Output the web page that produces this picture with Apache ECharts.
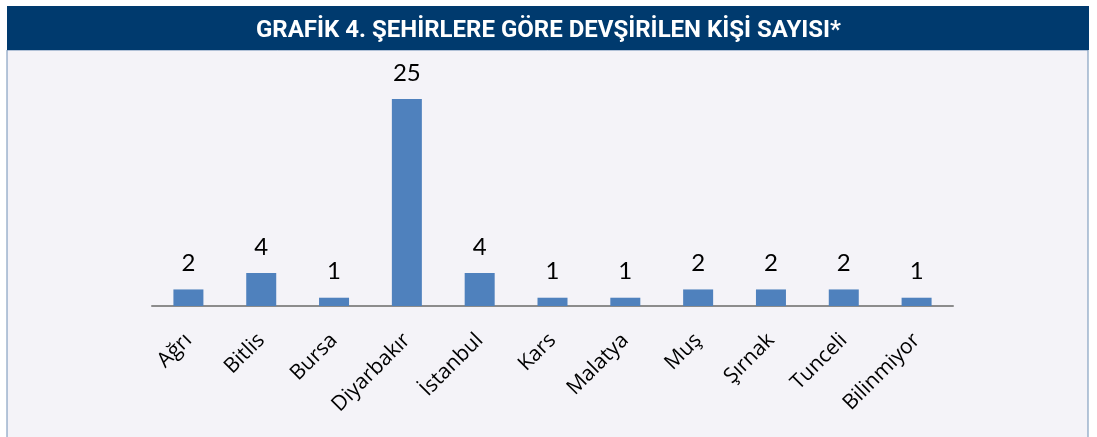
<!DOCTYPE html>
<html><head><meta charset="utf-8">
<script src="https://cdn.jsdelivr.net/npm/echarts@6/dist/echarts.min.js"></script>
<style>html,body{margin:0;padding:0;background:#fff}#c{width:1097px;height:437px}</style>
</head><body><div id="c"></div>
<script>
const titleText = "GRAFİK 4. ŞEHİRLERE GÖRE DEVŞİRİLEN KİŞİ SAYISI*";
const categories = ["Ağrı","Bitlis","Bursa","Diyarbakır","İstanbul","Kars","Malatya","Muş","Şırnak","Tunceli","Bilinmiyor"];
const values = [2,4,1,25,4,1,1,2,2,2,1];

const chart = echarts.init(document.getElementById('c'), null, {renderer:'canvas'});
chart.setOption({
  animation:false,
  backgroundColor:'#ffffff',
  graphic:[
    {type:'rect', shape:{x:7,y:50,width:1081,height:400}, style:{fill:'#f4f3f8', stroke:'#6f8fb5', lineWidth:1}, z:-10},
    {type:'rect', shape:{x:7,y:6,width:1082,height:44}, style:{fill:'#003a6e'}, z:-5}
  ],
  title:{text:titleText, left:'center', top:14, textStyle:{color:'#ffffff', fontFamily:'Roboto', fontWeight:'bold', fontSize:24}},
  grid:{left:152, right:1097-953, top:99, bottom:437-306, containLabel:false},
  xAxis:{type:'category', data:categories,
    axisLine:{lineStyle:{color:'#8c8c8c', width:2}},
    axisTick:{show:false},
    axisLabel:{rotate:45, margin:31, color:'#000', fontFamily:'Open Sans', fontSize:21, interval:0}
  },
  yAxis:{type:'value', min:0, max:25, show:false, splitLine:{show:false}},
  series:[{type:'bar', data:values, barWidth:30,
    itemStyle:{color:'#4f81bd'},
    label:{show:true, position:'top', distance:14, color:'#000', fontFamily:'Lato', fontSize:24}
  }]
});
</script></body></html>
